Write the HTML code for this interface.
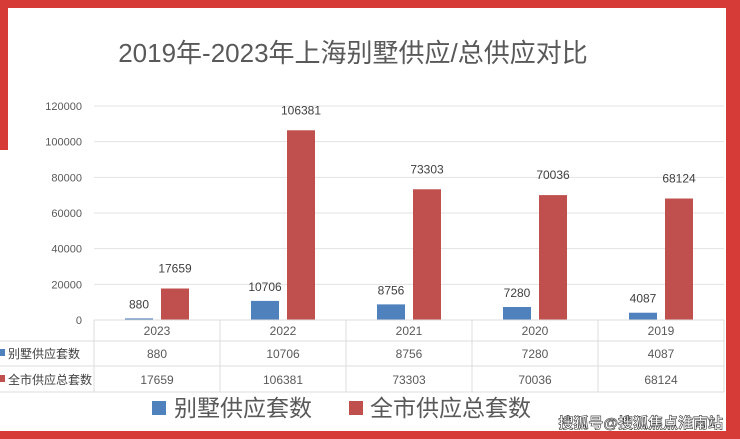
<!DOCTYPE html>
<html><head><meta charset="utf-8"><style>
body{margin:0;width:740px;height:439px;overflow:hidden;background:#fff;font-family:"Liberation Sans","Noto Sans CJK SC",sans-serif;position:relative}
.abs{position:absolute}
</style></head><body>
<div class="abs" style="left:0;top:0;width:740px;height:8px;background:#d63b37"></div>
<div class="abs" style="left:0;top:0;width:8px;height:150px;background:#d63b37"></div>
<div class="abs" style="left:726px;top:0;width:14px;height:439px;background:#d63b37"></div>
<div class="abs" style="left:0;top:431px;width:740px;height:8px;background:#d63b37"></div>
<svg id="chart" class="abs" style="left:0;top:0" width="740" height="439"></svg>
<script>
const categories=["2023","2022","2021","2020","2019"];
const villaSupply=[880,10706,8756,7280,4087];
const totalSupply=[17659,106381,73303,70036,68124];
const yTicks=[0,20000,40000,60000,80000,100000,120000];
const NS="http://www.w3.org/2000/svg";
const svg=document.getElementById('chart');
const x0=94,cw=126,yBase=320,yTop=106,yMax=120000;
const y=v=>yBase-(v/yMax)*(yBase-yTop);
const xc=i=>x0+cw*i+cw/2;
function mk(t,a,txt){const e=document.createElementNS(NS,t);for(const k in a)e.setAttribute(k,a[k]);if(txt!=null)e.textContent=txt;svg.appendChild(e);return e;}
const F='"Liberation Sans","Noto Sans CJK SC",sans-serif';
let e=mk('text',{x:353,y:62,'text-anchor':'middle','font-size':26,fill:'#595959','font-family':F},'2019年-2023年上海别墅供应/总供应对比');


yTicks.forEach(v=>{
 if(v>0){const l=mk('line',{x1:x0,x2:724,y1:y(v),y2:y(v),stroke:'#e3e3e3','stroke-width':1});
 
 }
 const t=mk('text',{x:82,y:y(v)+4,'text-anchor':'end','font-size':11,fill:'#595959','font-family':F},v);
 
 
});
categories.forEach((c,i)=>{
 const b=mk('rect',{x:xc(i)-32,y:y(villaSupply[i]),width:28,height:yBase-y(villaSupply[i]),fill:'#4f81bd'});
 
 
 const r=mk('rect',{x:xc(i)+4,y:y(totalSupply[i]),width:28,height:yBase-y(totalSupply[i]),fill:'#c0504d'});
 
 
 const l1=mk('text',{x:xc(i)-18,y:y(villaSupply[i])-10,'text-anchor':'middle','font-size':12,fill:'#404040','font-family':F},villaSupply[i]);
 
 
 const l2=mk('text',{x:xc(i)+18,y:y(totalSupply[i])-16,'text-anchor':'middle','font-size':12,fill:'#404040','font-family':F},totalSupply[i]);
 
 
 const t0=mk('text',{x:xc(i),y:335,'text-anchor':'middle','font-size':12,fill:'#595959','font-family':F},c);
 
 
 const t1=mk('text',{x:xc(i),y:358,'text-anchor':'middle','font-size':12,fill:'#595959','font-family':F},villaSupply[i]);
 
 
 const t2=mk('text',{x:xc(i),y:384,'text-anchor':'middle','font-size':12,fill:'#595959','font-family':F},totalSupply[i]);
 
 
});
// table grid
[[x0,320,724,320],[0,341,724,341],[0,366,724,366],[0,392,724,392]].forEach(a=>{const l=mk('line',{x1:a[0],y1:a[1],x2:a[2],y2:a[3],stroke:'#dcdcdc'});
 
 });
for(let i=0;i<=5;i++){const l=mk('line',{x1:x0+cw*i,x2:x0+cw*i,y1:320,y2:392,stroke:'#dcdcdc'});
 
 }
e=mk('rect',{x:0,y:349,width:5,height:7,fill:'#4f81bd'});


e=mk('text',{x:8,y:358,'font-size':12,fill:'#404040','font-family':F},'别墅供应套数');


e=mk('rect',{x:0,y:375,width:5,height:7,fill:'#c0504d'});


e=mk('text',{x:8,y:384,'font-size':12,fill:'#404040','font-family':F},'全市供应总套数');


// legend
e=mk('rect',{x:152,y:401,width:14,height:14,fill:'#4f81bd'});


e=mk('text',{x:174,y:416,'font-size':23,fill:'#595959','font-family':F},'别墅供应套数');


e=mk('rect',{x:349,y:401,width:14,height:14,fill:'#c0504d'});


e=mk('text',{x:370,y:416,'font-size':23,fill:'#595959','font-family':F},'全市供应总套数');


e=mk('text',{x:723,y:428,'text-anchor':'end','font-size':15,'font-weight':'bold',fill:'#fff',stroke:'#333','stroke-width':0.6,'font-family':F},'搜狐号@搜狐焦点淮南站');


</script>
</body></html>
